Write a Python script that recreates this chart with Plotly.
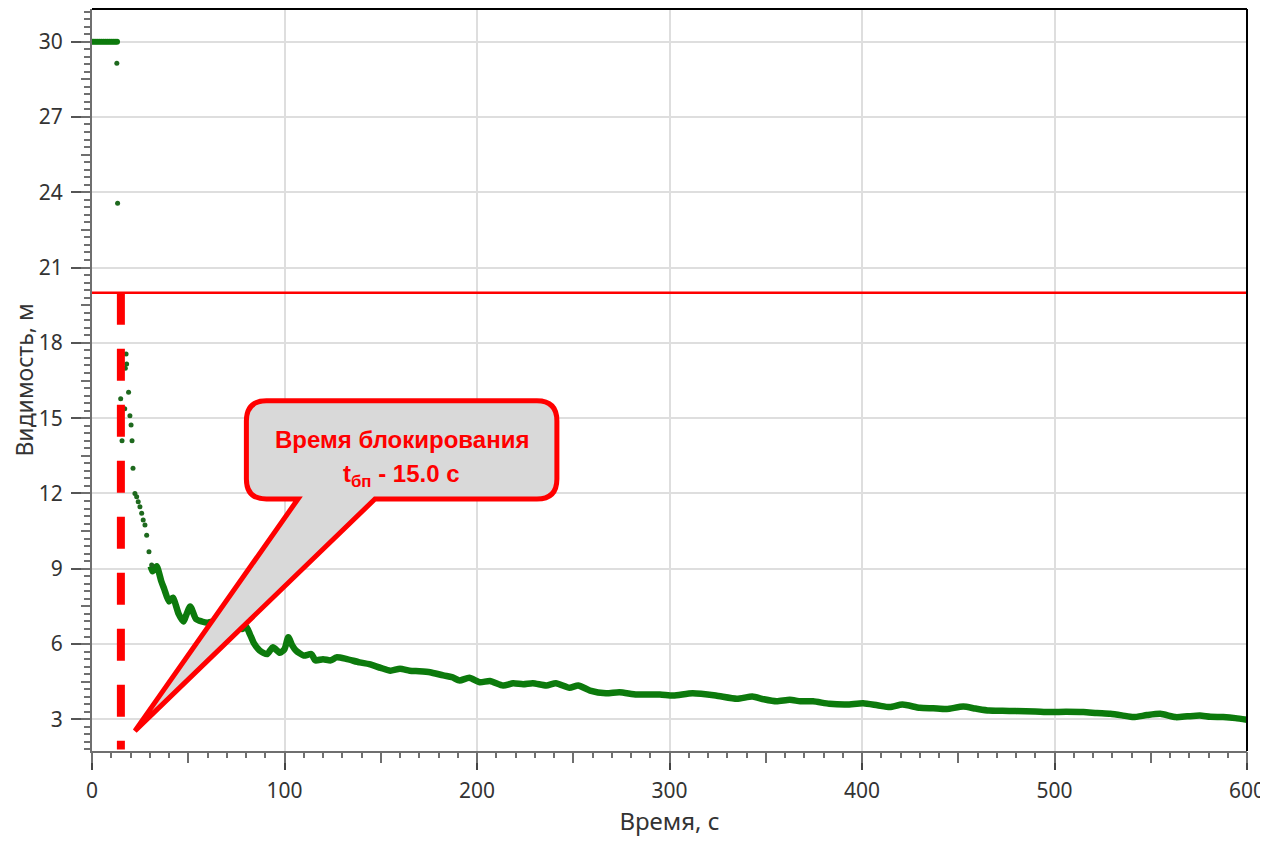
import plotly.graph_objects as go

# ---------------- data ----------------
t_const = [0, 1, 2, 3, 4, 5, 6, 7, 8, 9, 10, 11, 12, 13]
v_const = [30, 30, 30, 30, 30, 30, 30, 30, 30, 30, 30, 30, 30, 30]

t_drop = [12.9, 13.3, 17.7, 18.0, 17.3, 19.0, 14.9, 17.0, 19.7, 20.3, 15.6, 20.8,
          21.3, 22.3, 23.2, 24.0, 24.9, 25.8, 26.6, 27.5, 28.4, 29.6, 31.0]
v_drop = [29.14, 23.56, 17.56, 17.16, 16.99, 16.03, 15.77, 15.37, 15.10, 14.73, 14.10, 14.10,
          13.00, 12.00, 11.87, 11.67, 11.47, 11.21, 10.94, 10.74, 10.34, 9.68, 9.15]

t_curve = [30.5, 31.5, 33.6, 36, 37.5, 40, 42, 45, 47.4, 51, 54, 57, 60, 63, 66, 70, 74, 78,
           80, 82, 84, 87, 89, 91, 94, 97.6, 100, 102, 104, 106, 110, 114, 116, 120, 124,
           127, 132, 139, 144, 150, 155, 160, 165, 170, 175.6, 182.5, 187, 191, 196, 201.5,
           206.7, 213.6, 218.8, 224, 229, 236, 241, 248, 252.6, 258.7, 267, 274, 283, 295,
           302, 312, 324, 335, 343, 349, 355.6, 362.5, 368, 374.6, 383, 392, 400.6, 408,
           414.5, 421, 430, 437, 444, 452.6, 459, 466, 473, 480, 490, 497.6, 506, 515, 522,
           529, 535, 541, 548, 555, 563, 569, 575.5, 581, 587.6, 594, 600]
v_curve = [9.10, 8.90, 9.10, 8.50, 8.20, 7.70, 7.85, 7.20, 6.90, 7.50, 7.00, 6.90, 6.85, 6.90,
           6.75, 6.70, 6.85, 6.60, 6.70, 6.40, 6.05, 5.75, 5.65, 5.60, 5.87, 5.65, 5.80, 6.27,
           5.95, 5.74, 5.54, 5.60, 5.35, 5.40, 5.35, 5.47, 5.41, 5.27, 5.20, 5.05, 4.94, 5.02,
           4.94, 4.92, 4.88, 4.75, 4.68, 4.55, 4.66, 4.48, 4.53, 4.35, 4.44, 4.40, 4.44, 4.35,
           4.44, 4.26, 4.35, 4.15, 4.04, 4.08, 3.99, 3.99, 3.95, 4.04, 3.95, 3.82, 3.91, 3.80,
           3.72, 3.78, 3.72, 3.72, 3.62, 3.59, 3.64, 3.56, 3.49, 3.59, 3.46, 3.44, 3.41, 3.51,
           3.43, 3.35, 3.34, 3.33, 3.31, 3.29, 3.30, 3.29, 3.25, 3.22, 3.16, 3.09, 3.17, 3.22,
           3.09, 3.12, 3.15, 3.10, 3.09, 3.05, 2.98]

threshold = 20.0
t_block = 15.0
label_line1 = "Время блокирования"
label_line2 = "t<sub>бп</sub> - 15.0 с"
x_title = "Время, с"
y_title = "Видимость, м"

X_RANGE = [0, 600]
Y_RANGE = [1.74, 31.3]

GREEN = "rgb(12,122,12)"
DOT = "rgb(30,105,30)"
RED = "#ff0000"
AX = "#6f6f6f"
TXT = "#333333"
FONT = "Noto Sans, Open Sans, DejaVu Sans, sans-serif"
NARROW = "Liberation Sans Narrow, Arial Narrow, Liberation Sans, Arial, sans-serif"

fig = go.Figure()

fig.add_trace(go.Scatter(x=t_curve, y=v_curve, mode="lines",
                         line=dict(color=GREEN, width=6.5, shape="spline", smoothing=0.6),
                         showlegend=False, hoverinfo="skip"))
fig.add_trace(go.Scatter(x=t_const, y=v_const, mode="markers",
                         marker=dict(color=GREEN, size=6),
                         showlegend=False, hoverinfo="skip"))
fig.add_trace(go.Scatter(x=t_drop, y=v_drop, mode="markers",
                         marker=dict(color=DOT, size=5),
                         showlegend=False, hoverinfo="skip"))
# helper trace for medium-tick overlay axes
fig.add_trace(go.Scatter(x=[None], y=[None], xaxis="x2", yaxis="y2", mode="markers",
                         showlegend=False, hoverinfo="skip"))

# threshold line
fig.add_shape(type="line", xref="x", yref="y", x0=X_RANGE[0], x1=X_RANGE[1],
              y0=threshold, y1=threshold, line=dict(color=RED, width=2.5), layer="above")
# blocking-time dashed line
fig.add_shape(type="line", xref="x", yref="y", x0=t_block, x1=t_block,
              y0=threshold, y1=1.8, line=dict(color=RED, width=8, dash="32px,24px"), layer="above")

# callout bubble
bx0, bx1 = 80.2, 241.5
by0, by1 = 11.78, 15.69
rx, ry = 10.4, 0.8
tail_l, tail_r = 107.0, 147.0
tip_x, tip_y = 22.3, 2.54
path = (f"M {bx0+rx},{by1} L {bx1-rx},{by1} Q {bx1},{by1} {bx1},{by1-ry} "
        f"L {bx1},{by0+ry} Q {bx1},{by0} {bx1-rx},{by0} "
        f"L {tail_r},{by0} L {tip_x},{tip_y} L {tail_l},{by0} "
        f"L {bx0+rx},{by0} Q {bx0},{by0} {bx0},{by0+ry} "
        f"L {bx0},{by1-ry} Q {bx0},{by1} {bx0+rx},{by1} Z")
fig.add_shape(type="path", xref="x", yref="y", path=path,
              fillcolor="#d9d9d9", line=dict(color=RED, width=5), layer="above")

fig.add_annotation(x=(bx0+bx1)/2, y=14.13, xref="x", yref="y", text=f"<b>{label_line1}</b>",
                   showarrow=False, font=dict(family=NARROW, size=24, color=RED))
fig.add_annotation(x=(bx0+bx1)/2, y=12.73, xref="x", yref="y", text=f"<b>{label_line2}</b>",
                   showarrow=False, font=dict(family=NARROW, size=24, color=RED))

# frame: black top/right
fig.add_shape(type="line", xref="paper", yref="paper", x0=0, x1=1, y0=1, y1=1,
              line=dict(color="black", width=2), layer="above")
fig.add_shape(type="line", xref="paper", yref="paper", x0=1, x1=1, y0=0, y1=1,
              line=dict(color="black", width=2), layer="above")

# page body has an 8px margin, so the figure is sized to fill the rest of the window
fig.update_layout(
    width=1260, height=837,
    margin=dict(l=84, r=21, t=1, b=94, autoexpand=False),
    paper_bgcolor="white", plot_bgcolor="white",
    font=dict(family=FONT, color=TXT),
    xaxis=dict(range=X_RANGE, autorange=False, dtick=100, tick0=0, automargin=False,
               showgrid=True, gridcolor="#dedede", gridwidth=1.5,
               showline=True, linecolor=AX, linewidth=2, zeroline=False,
               ticks="outside", ticklen=17, tickwidth=2, tickcolor="#444",
               minor=dict(dtick=10, ticks="outside", ticklen=5, tickwidth=1.5, tickcolor=AX, showgrid=False),
               tickfont=dict(size=21, color=TXT), ticklabelstandoff=3,
               title=dict(text=x_title, font=dict(size=24, color=TXT), standoff=8)),
    yaxis=dict(range=Y_RANGE, autorange=False, dtick=3, tick0=0, automargin=False,
               showgrid=True, gridcolor="#dedede", gridwidth=1.5,
               showline=True, linecolor=AX, linewidth=2, zeroline=False,
               ticks="outside", ticklen=19, tickwidth=2, tickcolor="#555",
               minor=dict(dtick=0.3, ticks="outside", ticklen=6, tickwidth=1.5, tickcolor=AX, showgrid=False),
               tickfont=dict(size=21, color=TXT), ticklabelstandoff=4,
               title=dict(text=y_title, font=dict(size=23, color=TXT), standoff=6)),
    xaxis2=dict(range=X_RANGE, autorange=False, overlaying="x", anchor="y2", side="bottom",
                dtick=50, tick0=0, ticks="outside", ticklen=11, tickwidth=2, tickcolor=AX,
                showticklabels=False, showgrid=False, showline=False, zeroline=False),
    yaxis2=dict(range=Y_RANGE, autorange=False, overlaying="y", anchor="x2", side="left",
                dtick=1.5, tick0=0, ticks="outside", ticklen=10, tickwidth=2, tickcolor=AX,
                showticklabels=False, showgrid=False, showline=False, zeroline=False),
)

fig.write_html("out.html")
